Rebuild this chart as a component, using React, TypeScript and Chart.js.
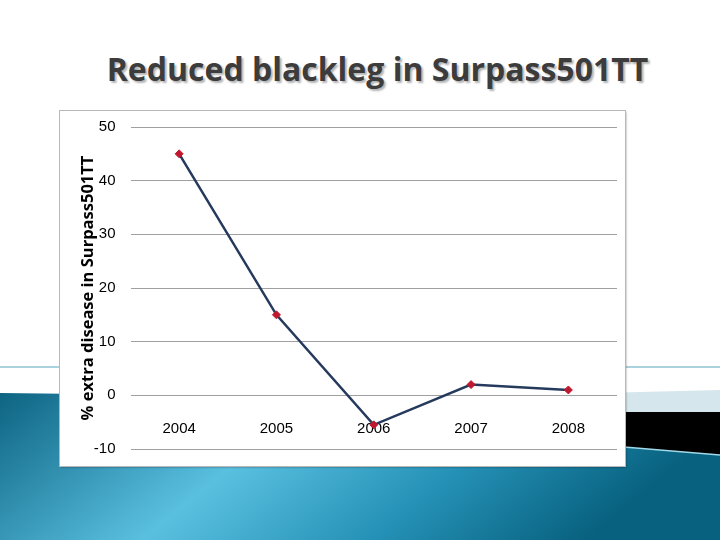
import React, { useEffect, useRef } from "react";
import { Chart, registerables } from "chart.js";

Chart.register(...registerables);

const years = ["2004", "2005", "2006", "2007", "2008"];
const extraDisease = [45, 15, -5.5, 2, 1];
const yMin = -10;
const yMax = 50;
const yStep = 10;
const titleText = "Reduced blackleg in Surpass501TT";
const yAxisTitle = "% extra disease in Surpass501TT";

export default function App() {
  const canvasRef = useRef<HTMLCanvasElement | null>(null);

  useEffect(() => {
    const canvas = canvasRef.current;
    if (!canvas) return;
    const chart = new Chart(canvas, {
      type: "line",
      data: {
        labels: years,
        datasets: [
          {
            data: extraDisease,
            borderColor: "#253a5c",
            borderWidth: 2.5,
            pointStyle: "rectRot",
            pointRadius: 4,
            pointBackgroundColor: "#c0182f",
            pointBorderColor: "#c0182f",
            pointBorderWidth: 1,
            tension: 0,
          },
        ],
      },
      options: {
        animation: false,
        responsive: false,
        maintainAspectRatio: false,
        layout: { padding: { top: 16, bottom: 17, right: 8, left: 0 } },
        plugins: { legend: { display: false }, tooltip: { enabled: false }, title: { display: false } },
        scales: {
          x: {
            type: "category",
            offset: true,
            position: { y: 0 } as any,
            grid: { display: false, drawTicks: false },
            border: { display: false },
            ticks: {
              padding: 25,
              color: "#000",
              font: { family: "'Liberation Sans Narrow', 'Liberation Sans', sans-serif", size: 15 },
              maxRotation: 0,
            },
          },
          y: {
            min: yMin,
            max: yMax,
            afterFit: (s: any) => {
              s.width = 70.5;
              s.paddingTop = 0;
              s.paddingBottom = 0;
            },
            grid: { color: "#a0a0a0", lineWidth: 1, drawTicks: false },
            border: { display: false },
            ticks: {
              stepSize: yStep,
              padding: 15,
              color: "#000",
              font: { family: "'Liberation Sans Narrow', 'Liberation Sans', sans-serif", size: 15 },
            },
            title: {
              display: true,
              text: yAxisTitle,
              color: "#000",
              padding: { top: 18, bottom: 0 },
              font: { family: "'Open Sans', 'DejaVu Sans', sans-serif", size: 16.5, weight: "bold" },
            },
          },
        },
      },
    });
    return () => chart.destroy();
  }, []);

  return (
    <div
      style={{
        position: "fixed",
        left: 0,
        top: 0,
        width: 720,
        height: 540,
        overflow: "hidden",
        background: "#fff",
      }}
    >
      <svg width={720} height={540} style={{ position: "absolute", left: 0, top: 0 }}>
        <defs>
          <linearGradient id="bg" x1="0" y1="0" x2="1" y2="0.25">
            <stop offset="0" stopColor="#0d6382" />
            <stop offset="0.42" stopColor="#5ac0e0" />
            <stop offset="0.72" stopColor="#2591b6" />
            <stop offset="1" stopColor="#08617f" />
          </linearGradient>
        </defs>
        <line x1={0} y1={367} x2={720} y2={367} stroke="#8cc3d1" strokeWidth={1.5} />
        <polygon points="600,393 720,390 720,412 600,412" fill="#d6e6ed" />
        <polygon points="600,412 720,412 720,455 600,445" fill="#000" />
        <polygon points="0,393 600,400 600,445 720,455 720,540 0,540" fill="url(#bg)" />
        <polyline points="600,445 720,455" stroke="#9fd8e8" strokeWidth={1.5} fill="none" />
      </svg>
      <div
        style={{
          position: "absolute",
          left: 0,
          top: 50,
          width: 755,
          textAlign: "center",
          fontFamily: "'Open Sans', 'DejaVu Sans', sans-serif",
          fontWeight: "bold",
          fontSize: 32,
          lineHeight: "38px",
          color: "#3c3c3c",
          textShadow: "2px 2px 2px rgba(0,0,0,0.3)",
          whiteSpace: "nowrap",
        }}
      >
        {titleText}
      </div>
      <div
        style={{
          position: "absolute",
          left: 60,
          top: 111,
          width: 565,
          height: 355,
          background: "#fff",
          outline: "1px solid #b8b8b8",
          boxShadow: "1px 1px 2px rgba(0,0,0,0.45)",
        }}
      >
        <canvas ref={canvasRef} width={565} height={355} style={{ display: "block" }} />
      </div>
    </div>
  );
}
